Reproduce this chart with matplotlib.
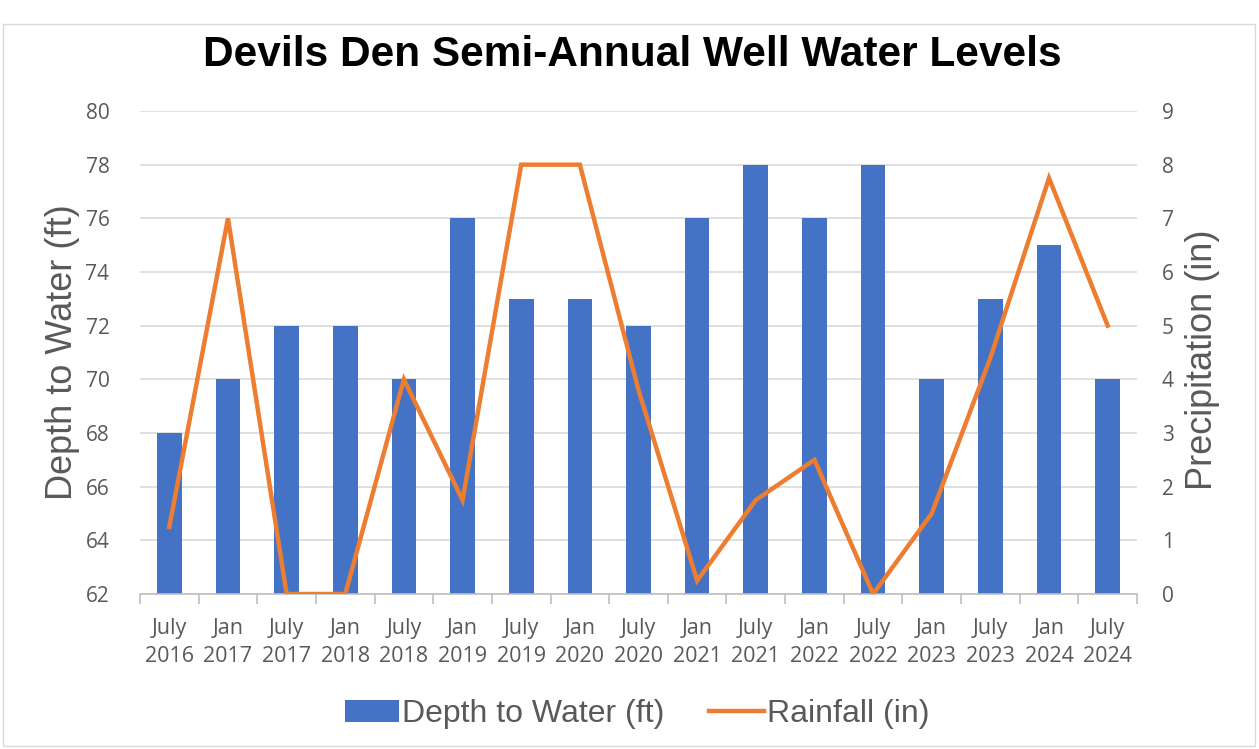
import matplotlib
matplotlib.use("Agg")
import matplotlib.pyplot as plt
import numpy as np
from matplotlib.patches import Rectangle, Patch
from matplotlib.lines import Line2D

categories = ["July\n2016", "Jan\n2017", "July\n2017", "Jan\n2018", "July\n2018", "Jan\n2019",
              "July\n2019", "Jan\n2020", "July\n2020", "Jan\n2021", "July\n2021", "Jan\n2022",
              "July\n2022", "Jan\n2023", "July\n2023", "Jan\n2024", "July\n2024"]
depth_ft = [68, 70, 72, 72, 70, 76, 73, 73, 72, 76, 78, 76, 78, 70, 73, 75, 70]
rain_in = [1.25, 7.0, 0, 0, 4.0, 1.75, 8.0, 8.0, 3.8, 0.25, 1.75, 2.5, 0, 1.5, 4.4, 7.75, 5.0]

BLUE = "#4472C4"
ORANGE = "#ED7D31"
GRID = "#D9D9D9"
TXT = "#595959"

W, H = 1259, 749
fig = plt.figure(figsize=(W/100, H/100), dpi=100)
fig.patches.append(Rectangle((3/W, 3/H), 1-7/W, 1-27/H, transform=fig.transFigure,
                             fill=False, edgecolor="#D9D9D9", lw=1))

ax = fig.add_axes([140/W, 1-594/H, (1137-140)/W, (594-111)/H])
x = np.arange(len(categories))
ax.bar(x, depth_ft, width=0.42, color=BLUE, zorder=2)
ax.set_ylim(62, 80)
ax.set_yticks(np.arange(62, 81, 2))
ax.set_xlim(-0.5, len(categories)-0.5)
ax.grid(axis="y", color=GRID, lw=1.2, zorder=0)
ax.set_axisbelow(True)
for s in ["top", "left", "right"]:
    ax.spines[s].set_visible(False)
ax.spines["bottom"].set_color("#BFBFBF")
ax.spines["bottom"].set_linewidth(1.2)
ax.set_xticks(x)
ax.set_xticklabels(categories, fontsize=15.5, color=TXT, family="Open Sans", linespacing=1.45)
ax.set_xticks(np.arange(-0.5, len(categories), 1), minor=True)
ax.tick_params(axis="x", which="major", length=0, pad=17)
ax.tick_params(axis="x", which="minor", length=7, color="#BFBFBF", width=1.2)
ax.tick_params(axis="y", length=0, labelsize=15, labelcolor=TXT, pad=22)
for lab in ax.get_yticklabels():
    lab.set_family("Open Sans")

ax2 = ax.twinx()
ax2.plot(x, rain_in, color=ORANGE, lw=3.2, solid_joinstyle="miter", zorder=3)
ax2.set_ylim(0, 9)
ax2.set_yticks(np.arange(0, 10, 1))
for s in ["top", "left", "right", "bottom"]:
    ax2.spines[s].set_visible(False)
ax2.tick_params(axis="y", length=0, labelsize=15, labelcolor=TXT, pad=18)
for lab in ax2.get_yticklabels():
    lab.set_family("Open Sans")

fig.text(63/W, 1-352/H, "Depth to Water (ft)", rotation=90, ha="center", va="center",
         fontsize=26, color=TXT, family="Liberation Sans")
fig.text(1202/W, 1-360/H, "Precipitation (in)", rotation=90, ha="center", va="center",
         fontsize=26, color=TXT, family="Liberation Sans")

fig.text(632/W, 1-55/H, "Devils Den Semi-Annual Well Water Levels", ha="center", va="center",
         fontsize=30.5, fontweight="bold", family="Liberation Sans", color="black")

handles = [Patch(facecolor=BLUE, edgecolor="none"), Line2D([0], [0], color=ORANGE, lw=3.2)]
leg = fig.legend(handles, ["Depth to Water (ft)", "Rainfall (in)"], loc="center",
                 bbox_to_anchor=(637/W, 1-714/H), ncol=2, frameon=False,
                 prop={"family": "Liberation Sans", "size": 23}, handlelength=1.7,
                 handletextpad=0.1, columnspacing=1.4)
for t in leg.get_texts():
    t.set_color(TXT)

fig.savefig("out.png", dpi=100)
